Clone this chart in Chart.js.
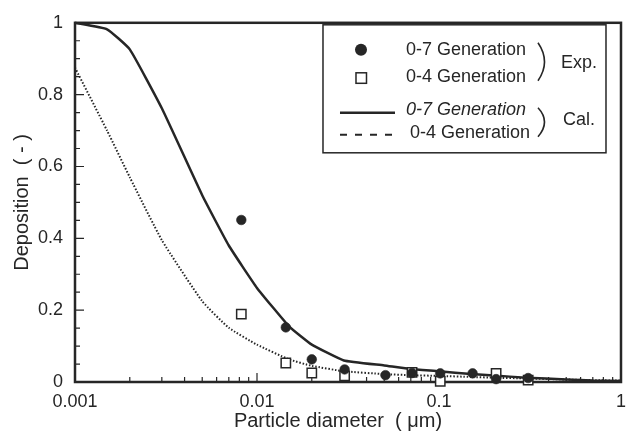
<!DOCTYPE html>
<html>
<head>
<meta charset="utf-8">
<script src="https://cdn.jsdelivr.net/npm/chart.js@4.4.1/dist/chart.umd.min.js"></script>
<style>
  html, body { margin: 0; padding: 0; background: #fff; }
  #wrap { width: 635px; height: 436px; }
</style>
</head>
<body>
<div id="wrap"><canvas id="deposition" width="635" height="436"></canvas></div>
<script>
// --- axis ticks ---
const xTicks = [0.001, 0.01, 0.1, 1];
const xTickLabels = ['0.001', '0.01', '0.1', '1'];
const yTicks = [0, 0.2, 0.4, 0.6, 0.8, 1];
const yTickLabels = ['0', '0.2', '0.4', '0.6', '0.8', '1'];

// --- measured deposition (Exp.) ---
const expDiam7 = [0.0082, 0.0144, 0.02, 0.0303, 0.0508, 0.0711, 0.1016, 0.153, 0.206, 0.309];
const expDep7  = [0.451, 0.152, 0.063, 0.035, 0.019, 0.025, 0.024, 0.024, 0.008, 0.011];
const expDiam4 = [0.0082, 0.0144, 0.02, 0.0303, 0.0711, 0.1016, 0.206, 0.309];
const expDep4  = [0.189, 0.053, 0.025, 0.017, 0.027, 0.002, 0.024, 0.005];

// --- calculated deposition (Cal.) ---
const calDiam = [0.001, 0.0015, 0.002, 0.003, 0.005, 0.007, 0.01, 0.015, 0.02, 0.03, 0.05, 0.07, 0.1, 0.15, 0.2, 0.3, 0.5, 0.7, 1];
const calDep7 = [1.0, 0.982, 0.926, 0.762, 0.52, 0.38, 0.262, 0.155, 0.104, 0.06, 0.046, 0.036, 0.03, 0.022, 0.018, 0.012, 0.007, 0.004, 0.003];
const calDep4 = [0.875, 0.70, 0.57, 0.395, 0.225, 0.151, 0.104, 0.063, 0.045, 0.03, 0.022, 0.019, 0.017, 0.014, 0.012, 0.01, 0.007, 0.005, 0.004];

const INK = '#262626';
const FONT = '"Liberation Sans", Arial, Helvetica, sans-serif';

const pairs = (xs, ys) => xs.map((x, i) => ({ x: x, y: ys[i] }));

// frame, inward ticks, axis titles and the bracketed legend
const framePlugin = {
    id: 'frame',
    beforeDatasetsDraw(chart) {
        const { ctx, chartArea: a, scales: { x, y } } = chart;
        ctx.save();
        ctx.strokeStyle = INK;

        // tick marks pointing into the plot
        ctx.lineWidth = 1.2;
        ctx.beginPath();
        for (let i = 0; i < xTicks.length - 1; i++) {
            for (let m = 1; m < 10; m++) {
                const px = x.getPixelForValue(xTicks[i] * m);
                const len = m === 1 ? 9 : 5;
                ctx.moveTo(px, a.bottom);
                ctx.lineTo(px, a.bottom - len);
            }
        }
        for (let k = 0; k <= 20; k++) {
            const py = y.getPixelForValue(k * 0.05);
            const len = k % 4 === 0 ? 9 : 5;
            ctx.moveTo(a.left, py);
            ctx.lineTo(a.left + len, py);
        }
        ctx.stroke();

        ctx.lineWidth = 2.5;
        ctx.strokeRect(a.left, a.top, a.right - a.left, a.bottom - a.top);
        ctx.restore();
    },
    afterDraw(chart) {
        const { ctx, chartArea: a } = chart;
        ctx.save();
        ctx.fillStyle = INK;
        ctx.strokeStyle = INK;

        // axis titles
        ctx.font = `20px ${FONT}`;
        ctx.textAlign = 'center';
        ctx.textBaseline = 'middle';
        ctx.fillText('Particle diameter  ( \u03bcm)', (a.left + a.right) / 2 - 10, a.bottom + 39);
        ctx.save();
        ctx.translate(22, (a.top + a.bottom) / 2);
        ctx.rotate(-Math.PI / 2);
        ctx.fillText('Deposition  ( - )', 0, 0);
        ctx.restore();

        // legend box
        const L = a.right - 298, T = a.top + 2;
        ctx.fillStyle = '#fff';
        ctx.fillRect(L, T, 283, 128);
        ctx.lineWidth = 1.5;
        ctx.strokeRect(L, T, 283, 128);
        ctx.fillStyle = INK;

        // Exp. markers
        ctx.beginPath();
        ctx.arc(L + 38, T + 25, 6, 0, Math.PI * 2);
        ctx.fill();
        ctx.lineWidth = 1.5;
        ctx.strokeRect(L + 33, T + 48, 10.5, 10.5);

        // Cal. lines
        ctx.lineWidth = 2.5;
        ctx.beginPath();
        ctx.moveTo(L + 17, T + 88);
        ctx.lineTo(L + 72, T + 88);
        ctx.stroke();
        ctx.lineWidth = 2;
        ctx.setLineDash([7, 8]);
        ctx.beginPath();
        ctx.moveTo(L + 17, T + 110);
        ctx.lineTo(L + 74, T + 110);
        ctx.stroke();
        ctx.setLineDash([]);

        ctx.font = `18px ${FONT}`;
        ctx.textAlign = 'left';
        ctx.textBaseline = 'middle';
        ctx.fillText('0-7 Generation', L + 83, T + 25);
        ctx.fillText('0-4 Generation', L + 83, T + 52);
        ctx.fillText('0-4 Generation', L + 87, T + 108);
        ctx.fillText('Exp.', L + 238, T + 38);
        ctx.fillText('Cal.', L + 240, T + 95);
        ctx.font = `italic 18px ${FONT}`;
        ctx.fillText('0-7 Generation', L + 83, T + 85);

        // brackets grouping the two pairs
        ctx.lineWidth = 1.6;
        ctx.beginPath();
        ctx.moveTo(L + 215, T + 18);
        ctx.quadraticCurveTo(L + 228, T + 37, L + 215, T + 56);
        ctx.moveTo(L + 215, T + 83);
        ctx.quadraticCurveTo(L + 228, T + 97, L + 215, T + 112);
        ctx.stroke();
        ctx.restore();
    }
};

new Chart(document.getElementById('deposition'), {
    type: 'scatter',
    data: {
        datasets: [
            {
                label: '0-7 Generation (Exp.)',
                data: pairs(expDiam7, expDep7),
                pointStyle: 'circle',
                pointRadius: 4.8,
                backgroundColor: INK,
                borderColor: INK,
                borderWidth: 0.6,
                clip: false
            },
            {
                label: '0-4 Generation (Exp.)',
                data: pairs(expDiam4, expDep4),
                pointStyle: 'rect',
                pointRadius: 6.6,
                backgroundColor: '#fff',
                borderColor: INK,
                borderWidth: 1.5,
                clip: false
            },
            {
                type: 'line',
                label: '0-7 Generation (Cal.)',
                data: pairs(calDiam, calDep7),
                showLine: true,
                borderColor: INK,
                borderWidth: 2.5,
                pointRadius: 0,
                tension: 0.12,
                fill: false,
                clip: false
            },
            {
                type: 'line',
                label: '0-4 Generation (Cal.)',
                data: pairs(calDiam, calDep4),
                showLine: true,
                borderColor: INK,
                borderWidth: 2,
                borderDash: [1.5, 1.8],
                pointRadius: 0,
                tension: 0.15,
                fill: false,
                clip: false
            }
        ]
    },
    options: {
        responsive: false,
        devicePixelRatio: 1,
        animation: false,
        layout: { padding: { top: 18, right: 12, left: 0, bottom: 0 } },
        plugins: { legend: { display: false }, tooltip: { enabled: false } },
        scales: {
            x: {
                type: 'logarithmic',
                min: 0.001,
                max: 1,
                afterBuildTicks: s => { s.ticks = xTicks.map(v => ({ value: v })); },
                afterFit: s => { s.height = 54; },
                grid: { display: false, drawTicks: false },
                border: { display: false },
                ticks: {
                    autoSkip: false,
                    maxRotation: 0,
                    padding: 9,
                    color: INK,
                    font: { family: FONT, size: 18 },
                    callback: (v, i) => xTickLabels[i]
                }
            },
            y: {
                min: 0,
                max: 1,
                afterBuildTicks: s => { s.ticks = yTicks.map(v => ({ value: v })); },
                afterFit: s => { s.width = 75; },
                grid: { display: false, drawTicks: false },
                border: { display: false },
                ticks: {
                    padding: 12,
                    color: INK,
                    font: { family: FONT, size: 18 },
                    callback: (v, i) => yTickLabels[i]
                }
            }
        }
    },
    plugins: [framePlugin]
});
</script>
</body>
</html>
